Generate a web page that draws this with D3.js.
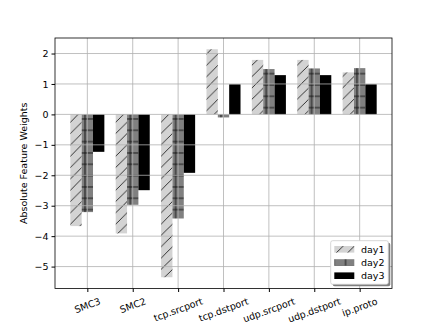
<!DOCTYPE html>
<html>
<head>
<meta charset="utf-8">
<script src="https://d3js.org/d3.v7.min.js"></script>
<style>
  body { margin: 0; background: #fff; }
  text { font-family: "DejaVu Sans", sans-serif; font-size: 9.5px; fill: #000; }
</style>
</head>
<body>
<div id="chart"></div>
<script>
const categories = ["SMC3", "SMC2", "tcp.srcport", "tcp.dstport", "udp.srcport", "udp.dstport", "ip.proto"];
const seriesNames = ["day1", "day2", "day3"];
const day1 = [-3.67, -3.91, -5.35, 2.14, 1.79, 1.79, 1.38];
const day2 = [-3.21, -2.97, -3.42, -0.10, 1.49, 1.51, 1.52];
const day3 = [-1.23, -2.49, -1.92, 0.99, 1.29, 1.29, 0.99];
const yTicks = [-5, -4, -3, -2, -1, 0, 1, 2];

const width = 436, height = 326;
const axLeft = 55, axRight = 392, axTop = 38, axBottom = 288.5;
const barW = 0.25;

const svg = d3.select("#chart").append("svg")
  .attr("width", width).attr("height", height);

const defs = svg.append("defs");
const hs = 11.33;
// day1: light grey with "/" hatch
const p1 = defs.append("pattern").attr("id", "h1").attr("patternUnits", "userSpaceOnUse")
  .attr("width", hs).attr("height", hs);
p1.append("rect").attr("width", hs).attr("height", hs).attr("fill", "#d3d3d3");
p1.append("path").attr("d", `M0,${hs} L${hs},0 M${-hs/2},${hs/2} L${hs/2},${-hs/2} M${hs/2},${hs*1.5} L${hs*1.5},${hs/2}`)
  .attr("stroke", "#222").attr("stroke-width", 0.9);
// day2: grey with "+" hatch
const p2 = defs.append("pattern").attr("id", "h2").attr("patternUnits", "userSpaceOnUse")
  .attr("width", hs).attr("height", hs);
p2.append("rect").attr("width", hs).attr("height", hs).attr("fill", "#808080");
p2.append("path").attr("d", `M${hs/2},0 V${hs} M0,${hs/2} H${hs}`)
  .attr("stroke", "#111").attr("stroke-width", 0.9);

const fills = ["url(#h1)", "url(#h2)", "#000"];
const series = [day1, day2, day3];

const x = d3.scaleLinear().domain([-0.7125, 6.7125]).range([axLeft, axRight]);
const y = d3.scaleLinear().domain([-5.72, 2.51]).range([axBottom, axTop]);

// bars
series.forEach((vals, s) => {
  svg.append("g").selectAll("rect").data(vals).join("rect")
    .attr("x", (d, i) => x(i + (s - 1) * barW - barW / 2))
    .attr("width", x(barW) - x(0))
    .attr("y", d => y(Math.max(0, d)))
    .attr("height", d => Math.abs(y(d) - y(0)))
    .attr("fill", fills[s]);
});

// grid (drawn above bars)
const grid = svg.append("g").attr("stroke", "#b0b0b0").attr("stroke-width", 0.8);
grid.selectAll(".gx").data(categories.map((c, i) => i)).join("line")
  .attr("x1", d => x(d)).attr("x2", d => x(d)).attr("y1", axTop).attr("y2", axBottom);
grid.selectAll(".gy").data(yTicks).join("line")
  .attr("x1", axLeft).attr("x2", axRight).attr("y1", d => y(d)).attr("y2", d => y(d));

// axes
const yAxis = d3.axisLeft(y).tickValues(yTicks).tickSize(3.5).tickPadding(3)
  .tickFormat(d => d < 0 ? "\u2212" + Math.abs(d) : String(d));
const gy = svg.append("g").attr("transform", `translate(${axLeft},0)`).call(yAxis);
gy.select(".domain").remove();
gy.selectAll("text").style("font-family", "DejaVu Sans").style("font-size", "9.5px");

const xAxis = d3.axisBottom(x).tickValues(categories.map((c, i) => i)).tickSize(3.5).tickFormat("");
const gx = svg.append("g").attr("transform", `translate(0,${axBottom})`).call(xAxis);
gx.select(".domain").remove();

// rotated x labels
categories.forEach((c, i) => {
  const t = svg.append("text").attr("text-anchor", "middle").attr("dominant-baseline", "central").text(c);
  const w = t.node().getComputedTextLength();
  const a = 20 * Math.PI / 180;
  const cy = axBottom + 7 + (w * Math.sin(a) + 11 * Math.cos(a)) / 2;
  t.attr("transform", `translate(${x(i)},${cy}) rotate(-20)`);
});

// frame
svg.append("rect").attr("x", axLeft).attr("y", axTop).attr("width", axRight - axLeft).attr("height", axBottom - axTop)
  .attr("fill", "none").attr("stroke", "#000").attr("stroke-width", 0.8);

// y label
svg.append("text").attr("text-anchor", "middle")
  .attr("transform", `translate(27,${(axTop + axBottom) / 2}) rotate(-90)`)
  .text("Absolute Feature Weights");

// legend
const lg = svg.append("g");
const lx = 330.7, ly = 240.7, lw = 57.6, lh = 43.6;
lg.append("rect").attr("x", lx + 2).attr("y", ly + 2).attr("width", lw).attr("height", lh)
  .attr("rx", 2).attr("fill", "#7f7f7f");
lg.append("rect").attr("x", lx).attr("y", ly).attr("width", lw).attr("height", lh)
  .attr("rx", 2).attr("fill", "#fff").attr("stroke", "#cccccc").attr("stroke-width", 0.8);
seriesNames.forEach((n, s) => {
  const cy = 249.3 + s * 13.2;
  lg.append("rect").attr("x", 334.3).attr("y", cy - 3.3).attr("width", 20).attr("height", 6.6)
    .attr("fill", fills[s]);
  lg.append("text").attr("x", 361).attr("y", cy).attr("dominant-baseline", "central").text(n);
});
</script>
</body>
</html>
